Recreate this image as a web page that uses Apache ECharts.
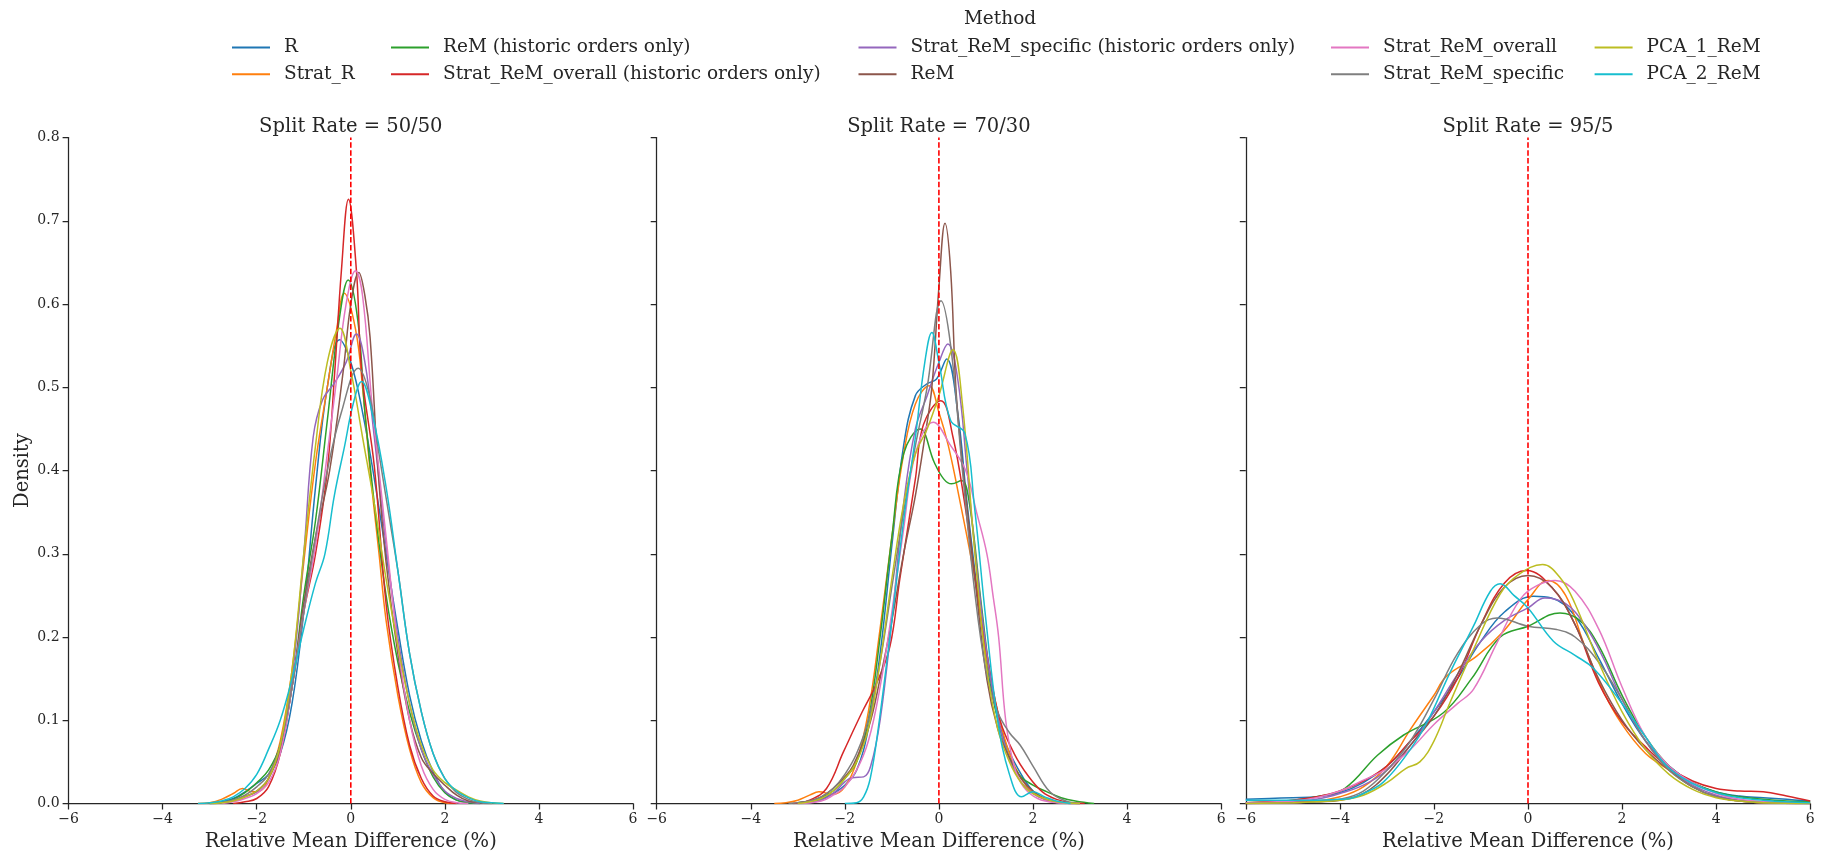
<!DOCTYPE html>
<html><head><meta charset="utf-8">
<script src="https://cdn.jsdelivr.net/npm/echarts@6/dist/echarts.min.js"></script>
<style>html,body{margin:0;padding:0;background:#fff}#c{width:1829px;height:857px}</style>
</head><body><div id="c"></div>
<script>
const methods = ['R','Strat_R','ReM (historic orders only)','Strat_ReM_overall (historic orders only)','Strat_ReM_specific (historic orders only)','ReM','Strat_ReM_overall','Strat_ReM_specific','PCA_1_ReM','PCA_2_ReM'];
const panelTitles = ['Split Rate = 50/50','Split Rate = 70/30','Split Rate = 95/5'];
const xTicks = [-6,-4,-2,0,2,4,6];
const yTicks = [0,0.1,0.2,0.3,0.4,0.5,0.6,0.7,0.8];
const refLine = 0;

// ---- Split 50/50 ----
const s50_R = [[-3,0],[-2.75,0.002],[-2.5,0.006],[-2.25,0.014],[-2,0.024],[-1.75,0.035],[-1.5,0.06],[-1.25,0.12],[-1,0.23],[-0.75,0.38],[-0.5,0.50],[-0.24,0.557],[0,0.53],[0.25,0.47],[0.5,0.39],[0.75,0.30],[1,0.21],[1.25,0.13],[1.5,0.075],[1.75,0.038],[2,0.014],[2.25,0.004],[2.5,0.001],[2.75,0]];
const s50_StratR = [[-3.25,0],[-3,0.001],[-2.75,0.005],[-2.5,0.012],[-2.3,0.018],[-2.1,0.014],[-1.9,0.016],[-1.75,0.03],[-1.5,0.075],[-1.25,0.16],[-1,0.29],[-0.75,0.41],[-0.5,0.50],[-0.3,0.57],[-0.14,0.613],[0.1,0.57],[0.25,0.50],[0.41,0.40],[0.6,0.30],[0.75,0.22],[1,0.13],[1.25,0.065],[1.5,0.025],[1.75,0.007],[2,0.001],[2.25,0]];
const s50_ReMh = [[-3,0],[-2.75,0.001],[-2.5,0.005],[-2.25,0.013],[-2,0.025],[-1.75,0.04],[-1.5,0.07],[-1.25,0.14],[-1,0.25],[-0.75,0.34],[-0.5,0.46],[-0.25,0.58],[-0.055,0.629],[0.15,0.58],[0.3,0.47],[0.5,0.36],[0.75,0.25],[1,0.17],[1.25,0.11],[1.5,0.065],[1.75,0.032],[2,0.013],[2.25,0.004],[2.5,0.001],[2.75,0]];
const s50_SROh = [[-2.5,0],[-2.25,0.002],[-2,0.006],[-1.75,0.02],[-1.5,0.06],[-1.25,0.14],[-1,0.23],[-0.75,0.30],[-0.5,0.40],[-0.34,0.52],[-0.2,0.64],[-0.05,0.726],[0.12,0.64],[0.23,0.52],[0.5,0.405],[0.75,0.24],[1,0.14],[1.25,0.07],[1.5,0.03],[1.75,0.009],[2,0.002],[2.25,0]];
const s50_SRSh = [[-2.75,0.001],[-2.5,0.004],[-2.25,0.009],[-2,0.014],[-1.75,0.03],[-1.5,0.07],[-1.25,0.15],[-1,0.30],[-0.8,0.44],[-0.6,0.485],[-0.35,0.505],[-0.1,0.53],[0.12,0.564],[0.3,0.53],[0.5,0.44],[0.75,0.31],[1,0.20],[1.25,0.12],[1.5,0.065],[1.75,0.035],[2,0.015],[2.25,0.006],[2.5,0.002],[2.75,0]];
const s50_ReM = [[-3,0],[-2.75,0.001],[-2.5,0.003],[-2.25,0.008],[-2,0.015],[-1.75,0.03],[-1.5,0.065],[-1.25,0.14],[-1,0.24],[-0.75,0.32],[-0.45,0.40],[-0.16,0.52],[0,0.60],[0.17,0.638],[0.3,0.61],[0.41,0.56],[0.58,0.40],[0.75,0.29],[1,0.18],[1.25,0.10],[1.5,0.055],[1.75,0.036],[2,0.022],[2.25,0.01],[2.5,0.003],[2.75,0.001],[3,0]];
const s50_SRO = [[-2.75,0],[-2.5,0.002],[-2.25,0.006],[-2,0.012],[-1.75,0.025],[-1.5,0.06],[-1.25,0.14],[-1,0.23],[-0.75,0.31],[-0.5,0.42],[-0.3,0.51],[-0.1,0.60],[0.1,0.640],[0.25,0.61],[0.45,0.48],[0.6,0.40],[0.75,0.32],[1,0.19],[1.25,0.10],[1.5,0.045],[1.75,0.017],[2,0.005],[2.25,0.001],[2.5,0]];
const s50_SRS = [[-3,0],[-2.75,0.001],[-2.5,0.004],[-2.25,0.01],[-2,0.02],[-1.75,0.035],[-1.5,0.07],[-1.25,0.14],[-1,0.23],[-0.75,0.32],[-0.5,0.40],[-0.2,0.47],[0.16,0.523],[0.4,0.49],[0.6,0.42],[0.8,0.35],[1,0.28],[1.25,0.18],[1.5,0.11],[1.75,0.06],[2,0.03],[2.25,0.013],[2.5,0.005],[2.75,0.001],[3,0]];
const s50_PCA1 = [[-3,0],[-2.75,0.001],[-2.5,0.003],[-2.25,0.008],[-2,0.015],[-1.75,0.03],[-1.5,0.07],[-1.25,0.16],[-1,0.30],[-0.75,0.43],[-0.5,0.53],[-0.23,0.571],[0,0.52],[0.25,0.44],[0.5,0.36],[0.75,0.27],[1,0.19],[1.25,0.12],[1.5,0.07],[1.75,0.04],[2,0.025],[2.25,0.016],[2.5,0.008],[2.75,0.003],[3,0.001],[3.25,0]];
const s50_PCA2 = [[-3.25,0],[-3,0.001],[-2.75,0.003],[-2.5,0.008],[-2.25,0.018],[-2,0.035],[-1.75,0.065],[-1.5,0.10],[-1.25,0.15],[-1,0.21],[-0.75,0.265],[-0.55,0.30],[-0.35,0.37],[-0.13,0.43],[0.05,0.48],[0.23,0.507],[0.45,0.47],[0.75,0.38],[1,0.28],[1.25,0.18],[1.5,0.11],[1.75,0.06],[2,0.03],[2.25,0.015],[2.5,0.007],[2.75,0.002],[3,0.001],[3.25,0]];

// ---- Split 70/30 ----
const s70_R = [[-3,0.001],[-2.75,0.002],[-2.5,0.005],[-2.25,0.012],[-2,0.022],[-1.75,0.04],[-1.5,0.09],[-1.25,0.18],[-1,0.31],[-0.75,0.43],[-0.5,0.49],[-0.26,0.504],[-0.05,0.51],[0.165,0.534],[0.4,0.47],[0.6,0.36],[0.85,0.24],[1.1,0.14],[1.4,0.075],[1.75,0.035],[2,0.015],[2.25,0.005],[2.6,0.001],[3,0]];
const s70_StratR = [[-3.5,0],[-3.25,0.001],[-3,0.004],[-2.75,0.01],[-2.55,0.014],[-2.25,0.011],[-2,0.02],[-1.75,0.05],[-1.5,0.11],[-1.25,0.21],[-1,0.32],[-0.75,0.42],[-0.5,0.48],[-0.21,0.502],[0,0.47],[0.2,0.43],[0.43,0.368],[0.77,0.268],[1,0.18],[1.25,0.11],[1.5,0.06],[1.75,0.03],[2,0.013],[2.25,0.005],[2.6,0.001],[3,0]];
const s70_ReMh = [[-3,0.001],[-2.75,0.003],[-2.5,0.007],[-2.25,0.015],[-2,0.03],[-1.75,0.05],[-1.5,0.10],[-1.25,0.20],[-1,0.32],[-0.75,0.42],[-0.4,0.45],[-0.1,0.41],[0.1,0.39],[0.27,0.384],[0.48,0.388],[0.65,0.36],[0.9,0.24],[1.15,0.13],[1.4,0.07],[1.7,0.035],[2,0.022],[2.3,0.014],[2.6,0.007],[2.9,0.003],[3.3,0]];
const s70_SROh = [[-3.1,0],[-2.75,0.004],[-2.39,0.018],[-2.03,0.062],[-1.64,0.109],[-1.32,0.145],[-1.04,0.189],[-0.83,0.27],[-0.5,0.39],[-0.33,0.455],[0.04,0.484],[0.3,0.44],[0.55,0.36],[0.8,0.26],[1.05,0.17],[1.3,0.10],[1.6,0.06],[1.9,0.033],[2.2,0.014],[2.5,0.005],[2.8,0.001],[3.1,0]];
const s70_SRSh = [[-3,0],[-2.75,0.001],[-2.5,0.004],[-2.25,0.012],[-2,0.026],[-1.85,0.031],[-1.6,0.032],[-1.45,0.045],[-1.25,0.10],[-1,0.22],[-0.75,0.36],[-0.5,0.45],[-0.25,0.49],[0,0.53],[0.19,0.552],[0.4,0.51],[0.6,0.40],[0.85,0.26],[1.1,0.15],[1.4,0.07],[1.7,0.03],[2,0.012],[2.3,0.004],[2.7,0]];
const s70_ReM = [[-3,0.001],[-2.75,0.003],[-2.5,0.008],[-2.25,0.018],[-2,0.032],[-1.82,0.046],[-1.5,0.09],[-1.25,0.15],[-1,0.22],[-0.75,0.30],[-0.5,0.37],[-0.3,0.44],[-0.15,0.50],[0,0.62],[0.13,0.697],[0.25,0.64],[0.36,0.50],[0.48,0.42],[0.77,0.268],[1.02,0.149],[1.25,0.09],[1.5,0.055],[1.75,0.03],[2,0.015],[2.3,0.005],[2.6,0.001],[3,0]];
const s70_SRO = [[-3,0],[-2.5,0.003],[-2.25,0.01],[-2,0.02],[-1.75,0.04],[-1.5,0.075],[-1.25,0.14],[-1,0.23],[-0.75,0.33],[-0.5,0.42],[-0.12,0.458],[0.25,0.43],[0.57,0.40],[0.8,0.35],[1.02,0.30],[1.15,0.25],[1.27,0.20],[1.42,0.10],[1.6,0.045],[1.8,0.02],[2.1,0.006],[2.5,0.001],[3,0]];
const s70_SRS = [[-3.2,0],[-2.75,0.003],[-2.5,0.008],[-2.25,0.018],[-2,0.035],[-1.75,0.06],[-1.5,0.10],[-1.25,0.17],[-1,0.26],[-0.75,0.35],[-0.5,0.43],[-0.25,0.50],[0.045,0.604],[0.25,0.55],[0.5,0.40],[0.75,0.26],[1,0.16],[1.25,0.11],[1.5,0.085],[1.73,0.07],[2,0.045],[2.36,0.014],[2.7,0.003],[3,0]];
const s70_PCA1 = [[-3,0],[-2.75,0.002],[-2.5,0.006],[-2.25,0.015],[-2,0.03],[-1.75,0.05],[-1.5,0.09],[-1.25,0.17],[-1,0.27],[-0.75,0.36],[-0.5,0.42],[-0.25,0.45],[0,0.49],[0.3,0.545],[0.5,0.48],[0.75,0.31],[1,0.17],[1.25,0.09],[1.5,0.05],[1.75,0.025],[2,0.012],[2.5,0.002],[3,0]];
const s70_PCA2 = [[-2,0],[-1.75,0.001],[-1.6,0.008],[-1.46,0.03],[-1.29,0.09],[-1,0.22],[-0.75,0.34],[-0.5,0.44],[-0.3,0.53],[-0.15,0.566],[0,0.53],[0.25,0.46],[0.55,0.445],[0.75,0.36],[1,0.22],[1.25,0.10],[1.5,0.035],[1.76,0.008],[2,0.014],[2.25,0.008],[2.5,0.003],[2.8,0]];

// ---- Split 95/5 ----
const s95_R = [[-6,0.005],[-5.5,0.006],[-5,0.007],[-4.5,0.008],[-4,0.013],[-3.5,0.025],[-3,0.045],[-2.5,0.075],[-2,0.11],[-1.5,0.15],[-1,0.195],[-0.5,0.23],[0.12,0.249],[0.5,0.247],[1,0.225],[1.5,0.175],[2,0.12],[2.5,0.075],[3,0.045],[3.5,0.025],[4,0.014],[4.5,0.009],[5,0.007],[5.5,0.005],[6,0.003]];
const s95_StratR = [[-6,0],[-5,0.001],[-4.5,0.003],[-4,0.008],[-3.5,0.02],[-3,0.045],[-2.5,0.089],[-2,0.13],[-1.73,0.153],[-1.09,0.177],[-0.52,0.207],[0,0.245],[0.43,0.268],[0.8,0.25],[1.2,0.19],[1.6,0.135],[2,0.095],[2.5,0.06],[3,0.04],[3.5,0.02],[4,0.008],[4.5,0.003],[5,0.001],[6,0]];
const s95_ReMh = [[-6,0.001],[-5,0.004],[-4.5,0.008],[-3.9,0.018],[-3.2,0.058],[-2.65,0.082],[-1.8,0.109],[-1.2,0.15],[-0.59,0.20],[0,0.213],[0.68,0.229],[1.1,0.22],[1.5,0.19],[2,0.13],[2.5,0.08],[3,0.045],[3.5,0.025],[4,0.014],[4.5,0.008],[5,0.005],[5.5,0.003],[6,0.002]];
const s95_SROh = [[-6,0.001],[-5.5,0.002],[-5,0.004],[-4.5,0.008],[-4,0.015],[-3.5,0.027],[-3,0.045],[-2.5,0.075],[-2,0.105],[-1.5,0.15],[-1,0.215],[-0.5,0.265],[-0.03,0.280],[0.5,0.26],[1,0.215],[1.5,0.145],[2,0.098],[2.5,0.068],[3,0.043],[3.5,0.027],[4,0.018],[4.5,0.015],[5,0.014],[5.5,0.009],[6,0.003]];
const s95_SRSh = [[-6,0],[-5,0.002],[-4.5,0.005],[-4,0.012],[-3.5,0.022],[-3,0.04],[-2.5,0.07],[-2,0.11],[-1.5,0.155],[-1,0.195],[-0.5,0.22],[0,0.235],[0.36,0.247],[0.8,0.24],[1.2,0.215],[1.6,0.175],[2,0.125],[2.5,0.075],[3,0.042],[3.5,0.022],[4,0.01],[4.5,0.004],[5,0.002],[6,0]];
const s95_ReM = [[-6,0],[-5,0.001],[-4.5,0.002],[-4,0.004],[-3.5,0.012],[-3,0.035],[-2.5,0.07],[-2,0.105],[-1.5,0.155],[-1,0.215],[-0.5,0.26],[0,0.274],[0.5,0.26],[1,0.215],[1.5,0.15],[2,0.10],[2.5,0.065],[3,0.04],[3.5,0.02],[4,0.008],[4.5,0.003],[5,0.001],[6,0]];
const s95_SRO = [[-6,0.001],[-5,0.003],[-4.5,0.007],[-4,0.015],[-3.5,0.028],[-3,0.042],[-2.5,0.065],[-2,0.095],[-1.5,0.12],[-1.16,0.137],[-0.66,0.193],[-0.17,0.245],[0.2,0.262],[0.58,0.268],[1,0.255],[1.5,0.21],[2,0.14],[2.5,0.08],[3,0.045],[3.5,0.025],[4,0.012],[4.5,0.005],[5,0.002],[6,0]];
const s95_SRS = [[-6,0],[-5,0.001],[-4.5,0.002],[-4,0.005],[-3.5,0.015],[-3,0.04],[-2.5,0.075],[-2,0.125],[-1.5,0.18],[-1,0.215],[-0.66,0.223],[0,0.213],[0.61,0.209],[1,0.2],[1.5,0.17],[2,0.125],[2.5,0.075],[3,0.04],[3.5,0.02],[4,0.008],[4.5,0.003],[5,0.001],[6,0]];
const s95_PCA1 = [[-6,0],[-5,0.001],[-4.5,0.002],[-4,0.004],[-3.5,0.01],[-3,0.025],[-2.6,0.042],[-2.3,0.05],[-2,0.075],[-1.66,0.121],[-1.16,0.185],[-0.59,0.252],[-0.2,0.275],[0.31,0.287],[0.7,0.27],[1,0.24],[1.5,0.17],[2,0.11],[2.5,0.065],[3,0.035],[3.5,0.017],[4,0.007],[4.5,0.003],[5,0.001],[6,0]];
const s95_PCA2 = [[-6,0.004],[-5.5,0.004],[-5,0.004],[-4.5,0.004],[-4,0.005],[-3.78,0.006],[-3.5,0.012],[-3.07,0.026],[-2.5,0.065],[-2.15,0.097],[-1.66,0.157],[-1.16,0.213],[-0.8,0.255],[-0.59,0.264],[-0.3,0.25],[0,0.235],[0.54,0.195],[1,0.178],[1.4,0.162],[2,0.12],[2.5,0.08],[2.95,0.045],[3.5,0.024],[4,0.013],[4.5,0.007],[5,0.004],[5.5,0.002],[6,0.001]];

const panels = [
  [s50_R,s50_StratR,s50_ReMh,s50_SROh,s50_SRSh,s50_ReM,s50_SRO,s50_SRS,s50_PCA1,s50_PCA2],
  [s70_R,s70_StratR,s70_ReMh,s70_SROh,s70_SRSh,s70_ReM,s70_SRO,s70_SRS,s70_PCA1,s70_PCA2],
  [s95_R,s95_StratR,s95_ReMh,s95_SROh,s95_SRSh,s95_ReM,s95_SRO,s95_SRS,s95_PCA1,s95_PCA2]
];

// ---- styles ----
const colors = ['#1f77b4','#ff7f0e','#2ca02c','#d62728','#9467bd','#8c564b','#e377c2','#7f7f7f','#bcbd22','#17becf'];
const FONT = 'DejaVu Serif';
const INK = '#262626';
const gridLefts = [68.6, 656.7, 1245.8];
const gridW = 564.4, gridTop = 137.6, gridH = 670.8;
const legendCols = [227, 386, 853.5, 1326, 1589.6];

const minus = v => (v < 0 ? '\u2212' + (-v) : String(v));

const grids = [], xAxes = [], yAxes = [], titles = [], series = [];
for (let p = 0; p < 3; p++) {
  grids.push({left: gridLefts[p], top: gridTop, width: gridW, height: gridH, containLabel: false});
  xAxes.push({
    type: 'value', gridIndex: p, min: xTicks[0], max: xTicks[xTicks.length-1], interval: 2,
    name: 'Relative Mean Difference (%)', nameLocation: 'middle', nameGap: 28.5,
    nameTextStyle: {fontFamily: FONT, fontSize: 19.5, color: INK},
    axisLine: {onZero: false, lineStyle: {color: INK, width: 1.25}},
    axisTick: {show: true, length: 6, lineStyle: {color: INK, width: 1.25}},
    axisLabel: {fontFamily: FONT, fontSize: 14, color: INK, margin: 9, formatter: minus},
    splitLine: {show: false}
  });
  yAxes.push({
    type: 'value', gridIndex: p, min: yTicks[0], max: yTicks[yTicks.length-1], interval: 0.1,
    name: p === 0 ? 'Density' : '', nameLocation: 'middle', nameGap: 34,
    nameTextStyle: {fontFamily: FONT, fontSize: 19.5, color: INK},
    axisLine: {show: true, onZero: false, lineStyle: {color: INK, width: 1.25}},
    axisTick: {show: true, length: 6, lineStyle: {color: INK, width: 1.25}},
    axisLabel: {show: p === 0, fontFamily: FONT, fontSize: 14, color: INK, margin: 9, formatter: v => v.toFixed(1)},
    splitLine: {show: false}
  });
  titles.push({
    text: panelTitles[p], left: gridLefts[p] + gridW / 2 - 5, top: 112, textAlign: 'center',
    textStyle: {fontFamily: FONT, fontSize: 19.5, fontWeight: 'normal', color: INK}
  });
  panels[p].forEach((d, i) => {
    series.push({
      type: 'line', name: methods[i], xAxisIndex: p, yAxisIndex: p, data: d,
      showSymbol: false, symbol: 'none', smooth: 0.4,
      color: colors[i], lineStyle: {width: 1.5, color: colors[i]}, silent: true, animation: false
    });
  });
  // vertical dashed reference line at x = 0
  series.push({
    type: 'line', name: '__ref' + p, xAxisIndex: p, yAxisIndex: p,
    data: [[refLine, yTicks[0]], [refLine, yTicks[yTicks.length-1]]],
    showSymbol: false, symbol: 'none', silent: true, animation: false, z: 5,
    color: '#ff0000', lineStyle: {width: 1.6, color: '#ff0000', type: [5.5, 2.4]}
  });
}
titles.push({text: 'Method', left: 995, top: 5, textAlign: 'center',
  textStyle: {fontFamily: FONT, fontSize: 18.5, fontWeight: 'normal', color: INK}});

const legends = [];
for (let c = 0; c < 5; c++) {
  legends.push({
    data: methods.slice(c * 2, c * 2 + 2), left: legendCols[c], top: 31.5, orient: 'vertical',
    icon: 'rect', itemWidth: 38, itemHeight: 2, itemGap: 4.8, selectedMode: false,
    textStyle: {fontFamily: FONT, fontSize: 18.5, color: INK, lineHeight: 22, padding: [0, 0, 0, 9]}
  });
}

const chart = echarts.init(document.getElementById('c'), null, {renderer: 'canvas'});
chart.setOption({
  backgroundColor: '#ffffff', animation: false,
  title: titles, legend: legends, grid: grids, xAxis: xAxes, yAxis: yAxes, series: series
});
</script></body></html>
